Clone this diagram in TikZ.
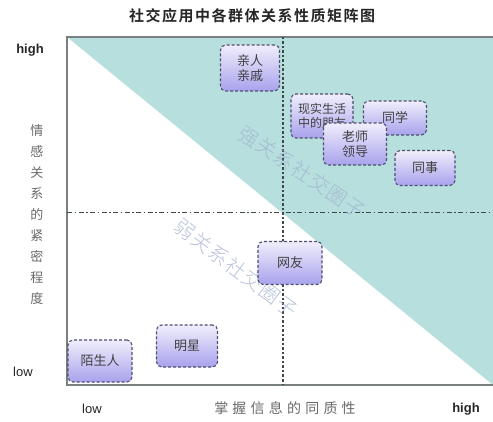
\documentclass[tikz,border=0pt]{standalone}
\usepackage{fontspec}
\setmainfont{Liberation Sans}
\newfontfamily\cjk{Noto Sans CJK SC}
\newfontfamily\cjkwide[LetterSpace=30]{Noto Sans CJK SC}
\newfontfamily\cjkwm[LetterSpace=6]{Noto Sans CJK SC Light}
\newfontfamily\cjkb[LetterSpace=10]{Noto Sans CJK SC Bold}
\definecolor{teal1}{HTML}{B7DFDD}
\definecolor{frame1}{HTML}{7A7F80}
\definecolor{axis1}{HTML}{3E4A4A}
\definecolor{bord1}{HTML}{4E4E70}
\definecolor{ntop}{HTML}{F0EEFC}
\definecolor{nbot}{HTML}{A8A2EC}
\definecolor{wm}{HTML}{9FAECF}
\definecolor{lbl}{HTML}{6A6A6A}
\begin{document}
\begin{tikzpicture}[x=1pt,y=-1pt,
  grp/.style={draw=bord1,densely dashed,line width=1.1pt,rounded corners=5pt,
    top color=ntop,bottom color=nbot,align=center,inner sep=0pt,
    font=\cjk\fontsize{13}{15}\selectfont,text=black!75},
  wmark/.style={font=\cjkwm\fontsize{20}{22}\selectfont,text=wm,opacity=0.75},
  axlbl/.style={font=\bfseries\fontsize{13}{15}\selectfont,text=black!85},
  cnlbl/.style={font=\cjk\fontsize{13}{15}\selectfont,text=lbl}]
\useasboundingbox (0,0) rectangle (493,422);
\fill[white] (0,0) rectangle (493,422);
% teal triangle
\fill[teal1] (67,37) -- (493,37) -- (493,385) -- cycle;
% frame
\coordinate (tl) at (67,37);
\coordinate (tr) at (493,37);
\coordinate (bl) at (67,385);
\coordinate (br) at (493,385);
\draw[frame1,line width=1.3pt] (tr) -- (tl) -- (bl) -- (br);
% axes
\coordinate (vt) at (283,37);
\coordinate (vb) at (283,385);
\coordinate (hl) at (67,213);
\coordinate (hr) at (493,213);
\draw[axis1,line width=1.1pt,dash pattern=on 2.5pt off 2pt] (vt) -- (vb);
\draw[axis1,line width=1pt,dash pattern=on 5pt off 2.5pt on 1.5pt off 2.5pt] (hl) -- (hr);
% watermarks
\node[wmark,rotate=-34] (strong) at (302,172) {强关系社交圈子};
\node[wmark,rotate=-37] (weak) at (236,268) {弱关系社交圈子};
% group nodes
\node[grp,minimum width=59pt,minimum height=46pt] (qin) at (250,68) {亲人\\亲戚};
\node[grp,minimum width=62pt,minimum height=44pt,font=\cjk\fontsize{12}{14}\selectfont] (xian) at (322,116) {现实生活\\中的朋友};
\node[grp,minimum width=63pt,minimum height=34pt] (tongxue) at (395,118) {同学};
\node[grp,minimum width=63pt,minimum height=42pt] (laoshi) at (355,144) {老师\\领导};
\node[grp,minimum width=60pt,minimum height=35pt] (tongshi) at (425,168) {同事};
\node[grp,minimum width=64pt,minimum height=43pt] (wangyou) at (290,263) {网友};
\node[grp,minimum width=61pt,minimum height=42pt] (mingxing) at (187,346) {明星};
\node[grp,minimum width=64pt,minimum height=42pt] (mosheng) at (100,361) {陌生人};
% title
\node[font=\cjkb\fontsize{15}{17}\selectfont,text=black!85] (title) at (252,16) {社交应用中各群体关系性质矩阵图};
% axis labels
\node[axlbl] (yhigh) at (30,50) {high};
\node[axlbl,font=\fontsize{13}{15}\selectfont] (ylow) at (23,372) {low};
\node[cnlbl,align=center,font=\cjk\fontsize{13}{21}\selectfont] (ylab) at (37,215) {情\\感\\关\\系\\的\\紧\\密\\程\\度};
\node[axlbl,font=\fontsize{13}{15}\selectfont] (xlow) at (92,409) {low};
\node[cnlbl,font=\cjkwide\fontsize{14}{16}\selectfont] (xlab) at (285,408) {掌握信息的同质性};
\node[axlbl] (xhigh) at (466,409) {high};
\end{tikzpicture}
\end{document}
